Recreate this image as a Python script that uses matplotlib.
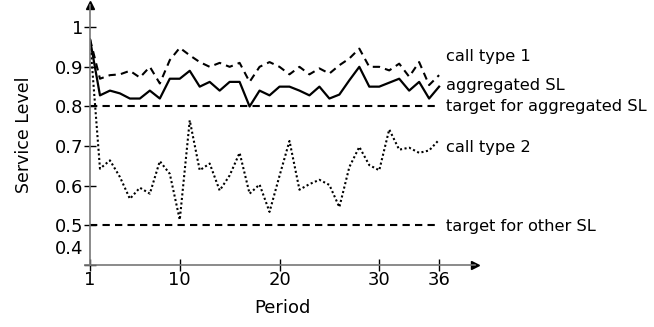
import matplotlib
matplotlib.use("Agg")
import matplotlib.pyplot as plt
import matplotlib.transforms as mtransforms

# Service level per period
periods = list(range(1, 37))

call_type_1 = [0.97, 0.87, 0.879, 0.881, 0.89, 0.873, 0.90, 0.858, 0.917, 0.948,
               0.929, 0.912, 0.90, 0.91, 0.90, 0.91, 0.862, 0.90, 0.912, 0.90,
               0.881, 0.90, 0.881, 0.896, 0.883, 0.904, 0.921, 0.946, 0.90, 0.90,
               0.891, 0.908, 0.875, 0.912, 0.854, 0.879]

aggregated = [0.969, 0.828, 0.84, 0.833, 0.82, 0.82, 0.84, 0.82, 0.87, 0.87,
              0.89, 0.85, 0.862, 0.84, 0.862, 0.862, 0.80, 0.84, 0.828, 0.85,
              0.85, 0.84, 0.828, 0.85, 0.82, 0.83, 0.866, 0.90, 0.85, 0.85,
              0.86, 0.87, 0.84, 0.862, 0.82, 0.85]

call_type_2 = [0.97, 0.643, 0.664, 0.622, 0.567, 0.595, 0.58, 0.662, 0.63, 0.514,
               0.765, 0.639, 0.656, 0.588, 0.626, 0.683, 0.58, 0.603, 0.534, 0.625,
               0.713, 0.59, 0.604, 0.615, 0.602, 0.546, 0.647, 0.698, 0.652, 0.639,
               0.742, 0.691, 0.696, 0.683, 0.689, 0.716]

target_aggregated = 0.8
target_other = 0.5

x_ticks = [1, 10, 20, 30, 36]
y_ticks = [0.4, 0.5, 0.6, 0.7, 0.8, 0.9, 1.0]
y_tick_labels = ["0.4", "0.5", "0.6", "0.7", "0.8", "0.9", "1"]

# curve labels on the right: (text, y position)
curve_labels = [("call type 1", 0.925),
                ("aggregated SL", 0.853),
                ("target for aggregated SL", 0.80),
                ("call type 2", 0.697),
                ("target for other SL", 0.497)]

plt.rcParams["font.family"] = ["DejaVu Sans"]
FS = 13

W, H = 654, 327
fig = plt.figure(figsize=(W / 100, H / 100), dpi=100)
ax = fig.add_axes([90 / W, (H - 265) / H, 385 / W, 260 / H])

dash = (0, (3.5, 2.5))
ax.plot(periods, call_type_1, color="black", lw=1.5, linestyle=dash)
ax.plot(periods, aggregated, color="black", lw=1.6)
ax.plot(periods, call_type_2, color="black", lw=1.5, linestyle=(0, (1, 1.2)))
ax.plot([periods[0], periods[-1]], [target_aggregated] * 2, color="black", lw=1.5, linestyle=dash)
ax.plot([periods[0], periods[-1]], [target_other] * 2, color="black", lw=1.5, linestyle=dash)

for text, y in curve_labels:
    ax.text(36.7, y, text, fontsize=11.7, va="center", ha="left", clip_on=False)

ax.set_xlim(1, 39.6)
ax.set_ylim(0.4, 1.056)

# only left/bottom axis lines, with arrow heads
for side in ["top", "right"]:
    ax.spines[side].set_visible(False)
for side in ["left", "bottom"]:
    ax.spines[side].set_color("#777777")
    ax.spines[side].set_linewidth(1.2)
ax.spines["bottom"].set_bounds(0.45, 39.6)
ax.plot(1, 0, ">", color="black", markersize=6, transform=ax.transAxes, clip_on=False)
ax.plot(0, 1, "^", color="black", markersize=6, transform=ax.transAxes, clip_on=False)

ax.set_xticks(x_ticks)
ax.set_yticks(y_ticks)
ax.set_yticklabels(y_tick_labels)
ax.tick_params(direction="inout", length=9, width=1, colors="black", labelsize=FS, pad=0)

# 0.4 label sits a bit above its tick in the original
lab = ax.get_yticklabels()[0]
lab.set_transform(lab.get_transform() + mtransforms.ScaledTranslation(0, 18 / 100, fig.dpi_scale_trans))

ax.set_xlabel("Period", fontsize=FS, labelpad=7)
ax.set_ylabel("Service Level", fontsize=12.5, labelpad=16)

fig.savefig("out.png", dpi=100)
